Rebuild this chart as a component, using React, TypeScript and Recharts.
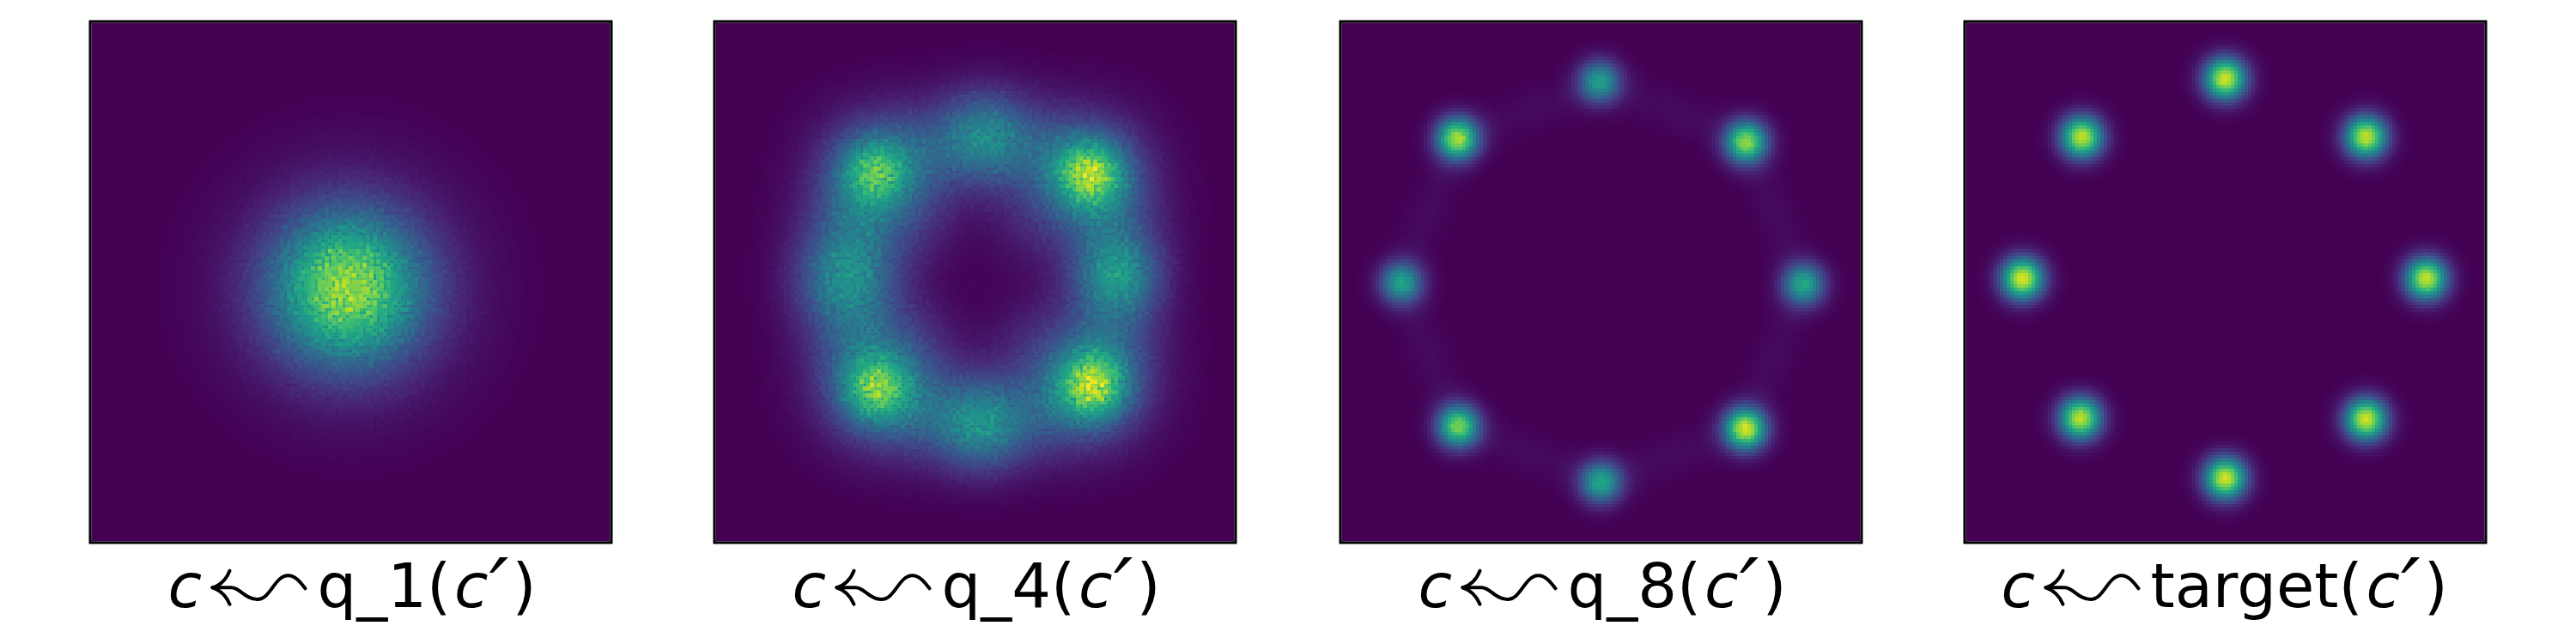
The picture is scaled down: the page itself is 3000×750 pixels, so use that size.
import { ScatterChart, Scatter, XAxis, YAxis, ReferenceArea, Label } from "recharts";

type Peak = { x: number; y: number; value: number; spread: number };

// each row: x, y, peak height (0..1 of the colour scale), spread
const q1Rows = [
  [-0.013, -0.026, 0.72, 0.2],
  [0.0, -0.02, 0.11, 0.3],
];

const q4Rows = [
  [-0.385, 0.424, 0.32, 0.085],
  [-0.385, 0.424, 0.32, 0.15],
  [0.443, 0.417, 0.46, 0.085],
  [0.443, 0.417, 0.34, 0.15],
  [-0.378, -0.41, 0.38, 0.085],
  [-0.378, -0.41, 0.34, 0.15],
  [0.45, -0.397, 0.48, 0.085],
  [0.45, -0.397, 0.36, 0.15],
  [0.033, 0.56, 0.4, 0.12],
  [0.547, 0.026, 0.46, 0.115],
  [-0.495, 0.02, 0.42, 0.13],
  [0.02, -0.547, 0.44, 0.12],
  [0.24, 0.5, 0.14, 0.13],
  [0.52, 0.24, 0.14, 0.13],
  [0.52, -0.2, 0.14, 0.13],
  [0.24, -0.5, 0.14, 0.13],
  [-0.2, -0.5, 0.14, 0.13],
  [-0.46, -0.2, 0.16, 0.13],
  [-0.46, 0.24, 0.16, 0.13],
  [-0.2, 0.5, 0.14, 0.13],
  [0.22, 0.22, 0.07, 0.12],
  [0.22, -0.22, 0.07, 0.12],
  [-0.22, -0.22, 0.07, 0.12],
  [-0.22, 0.22, 0.07, 0.12],
];

const q8Rows = [
  [-0.005, 0.768, 0.56, 0.054],
  [0.557, 0.537, 0.84, 0.054],
  [0.777, -0.009, 0.6, 0.054],
  [0.554, -0.563, 0.94, 0.054],
  [0.0, -0.768, 0.6, 0.054],
  [-0.547, -0.553, 0.8, 0.054],
  [-0.765, -0.003, 0.58, 0.054],
  [-0.55, 0.55, 0.88, 0.054],
];

// the faint bridges between the q_8 modes
const q8BridgeX = [0.14, 0.28, 0.41, 0.61, 0.665, 0.72, 0.72, 0.665, 0.61, 0.41, 0.275, 0.14, -0.14, -0.275, -0.41, -0.605, -0.66, -0.715, -0.715, -0.66, -0.605, -0.41, -0.275, -0.14];
const q8BridgeY = [0.71, 0.655, 0.6, 0.405, 0.27, 0.135, -0.14, -0.28, -0.42, -0.61, -0.665, -0.72, -0.715, -0.66, -0.605, -0.41, -0.275, -0.14, 0.14, 0.275, 0.41, 0.605, 0.66, 0.71];

const targetRows = [
  [0.0, 0.78, 0.93, 0.054],
  [0.54, 0.557, 0.91, 0.054],
  [0.771, 0.013, 0.91, 0.054],
  [0.54, -0.527, 0.93, 0.054],
  [0.0, -0.753, 0.93, 0.054],
  [-0.556, -0.523, 0.9, 0.054],
  [-0.778, 0.013, 0.95, 0.054],
  [-0.55, 0.556, 0.91, 0.054],
];

const toPeaks = (rows: number[][]): Peak[] =>
  rows.map(([x, y, value, spread]) => ({ x, y, value, spread }));

const panelNames = ["q_1", "q_4", "q_8", "target"];
const panelPeaks: Peak[][] = [
  toPeaks(q1Rows),
  toPeaks(q4Rows),
  [...toPeaks(q8Rows), ...q8BridgeX.map((x, i) => ({ x, y: q8BridgeY[i], value: 0.028, spread: 0.055 }))],
  toPeaks(targetRows),
];
const panelGrain = [0.7, 0.7, 0.2, 0.1];
const panelLeft = [100, 827, 1556, 2283];
const titleStart = [-213, -213, -213, -261];

const PLOT = 607;
const PAD = 5;

const R_TABLE = ".267 .282 .255 .208 .165 .129 .133 .267 .478 .741 .992";
const G_TABLE = ".004 .141 .267 .373 .471 .569 .659 .749 .820 .875 .906";
const B_TABLE = ".329 .459 .529 .553 .557 .549 .518 .439 .318 .149 .145";

const FALLOFF = [
  [0, 1], [0.1, 0.94], [0.2, 0.783], [0.3, 0.576], [0.4, 0.375], [0.5, 0.216],
  [0.6, 0.11], [0.7, 0.05], [0.8, 0.02], [0.9, 0.007], [1, 0],
];

const Blob = (props: any) => {
  const { cx, cy, payload } = props;
  const r = payload.spread * 3.5 * (PLOT / 2);
  return (
    <circle
      cx={cx}
      cy={cy}
      r={r}
      fill="url(#gauss)"
      fillOpacity={payload.value}
      style={{ mixBlendMode: "plus-lighter" }}
    />
  );
};

const BASELINE = PAD + PLOT + 75;

// the \leftsquigarrow of the captions, the font's own glyph is much shorter
const Squiggle = ({ x }: { x: number }) => (
  <g transform={`translate(${x},${BASELINE})`} fill="none" stroke="#000" strokeWidth={4} strokeLinecap="round">
    <path d="M0,-22.7 L22,-22.7 C32,-22.7 38,-9 52,-9 C68,-9 72,-36.7 88,-36.7 C97,-36.7 103,-28 108,-21.7" />
    <path d="M0,-22.7 Q14,-27 20,-42.3" />
    <path d="M0,-22.7 Q14,-18 20,-3.3" />
  </g>
);

const Title = ({ index }: { index: number }) => {
  const left = PAD + PLOT / 2 + titleStart[index];
  return (
    <g>
      <text x={left} y={BASELINE} fontFamily="DejaVu Sans" fontSize={72} fill="#000">
        <tspan fontStyle="italic">c</tspan>
        <tspan x={left + 174}>{panelNames[index]}(</tspan>
        <tspan fontStyle="italic" dx={4}>c</tspan>
        <tspan fontStyle="italic" fontSize={100} dx={1} dy={15}>′</tspan>
        <tspan dx={4} dy={-15}>)</tspan>
      </text>
      <Squiggle x={left + 52} />
    </g>
  );
};

const Panel = ({ index }: { index: number }) => (
  <div className={`panel-${index}`} style={{ position: "absolute", left: panelLeft[index], top: 20 }}>
    <ScatterChart
      width={PLOT + 2 * PAD}
      height={730}
      margin={{ top: PAD, right: PAD, bottom: 0, left: PAD }}
    >
      <XAxis
        type="number"
        dataKey="x"
        domain={[-1, 1]}
        height={118}
        tick={false}
        axisLine={false}
        tickLine={false}
        allowDataOverflow
      >
        <Label content={() => <Title index={index} />} />
      </XAxis>
      <YAxis type="number" dataKey="y" domain={[-1, 1]} hide allowDataOverflow />
      <ReferenceArea x1={-1} x2={1} y1={-1} y2={1} fill="#440154" stroke="#000" strokeWidth={3} />
      <Scatter data={panelPeaks[index]} shape={Blob} isAnimationActive={false} />
    </ScatterChart>
  </div>
);

export default function App() {
  return (
    <div style={{ position: "absolute", left: 0, top: 0, width: 3000, height: 750, background: "#fff", overflow: "hidden" }}>
      <style>
        {panelNames.map((_, i) => `.panel-${i} .recharts-scatter{filter:url(#heat-${i})}`).join("\n")}
      </style>
      <svg width={0} height={0} style={{ position: "absolute" }}>
        <defs>
          <radialGradient id="gauss">
            {FALLOFF.map(([o, a]) => (
              <stop key={o} offset={o} stopColor="#fff" stopOpacity={a} />
            ))}
          </radialGradient>
          {panelGrain.map((grain, i) => (
            <filter
              key={i}
              id={`heat-${i}`}
              filterUnits="userSpaceOnUse"
              x={PAD + 2}
              y={PAD + 2}
              width={PLOT - 4}
              height={PLOT - 4}
              colorInterpolationFilters="sRGB"
            >
              <feColorMatrix in="SourceGraphic" type="matrix" values="0 0 0 1 0 0 0 0 1 0 0 0 0 1 0 0 0 0 0 1" result="level" />
              <feTurbulence type="fractalNoise" baseFrequency={0.23} numOctaves={2} seed={i + 3} result="raw" />
              <feColorMatrix in="raw" type="matrix" values="1 0 0 0 0 1 0 0 0 0 1 0 0 0 0 0 0 0 0 1" result="grain" />
              <feComposite in="level" in2="grain" operator="arithmetic" k1={grain} k2={1 - grain / 2} k3={0} k4={0} result="noisy" />
              <feFlood x={PAD + 3} y={PAD + 3} width={1} height={1} floodColor="#000" />
              <feComposite x={PAD + 2} y={PAD + 2} width={4} height={4} />
              <feTile result="dots" />
              <feComposite in="noisy" in2="dots" operator="in" />
              <feMorphology operator="dilate" radius={2} result="cells" />
              <feComponentTransfer in="cells">
                <feFuncR type="table" tableValues={R_TABLE} />
                <feFuncG type="table" tableValues={G_TABLE} />
                <feFuncB type="table" tableValues={B_TABLE} />
              </feComponentTransfer>
            </filter>
          ))}
        </defs>
      </svg>
      {panelNames.map((_, i) => (
        <Panel key={i} index={i} />
      ))}
    </div>
  );
}
